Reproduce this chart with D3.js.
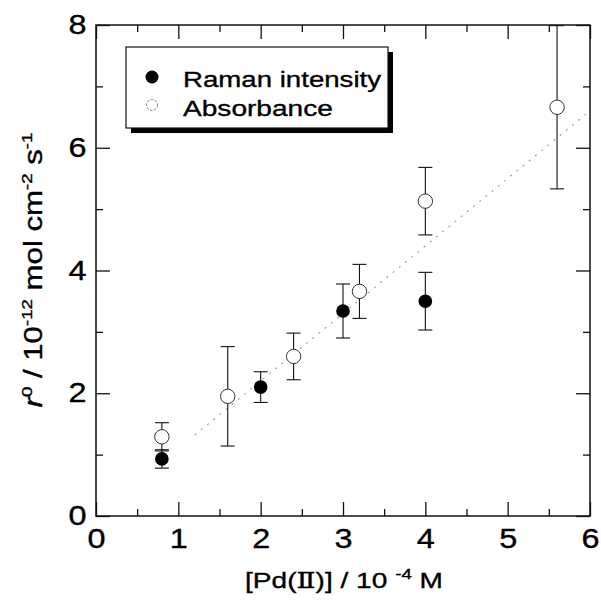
<!DOCTYPE html>
<html>
<head>
<meta charset="utf-8">
<script src="https://cdn.jsdelivr.net/npm/d3@7"></script>
<style>
  html, body { margin: 0; padding: 0; background: #fff; }
  svg { display: block; font-family: "Liberation Sans", Arial, Helvetica, sans-serif; }
  svg text { stroke: #000; stroke-width: 0.35px; }
</style>
</head>
<body>
<svg id="chart" width="601" height="600"></svg>
<script>
// Initial rate vs Pd(II) concentration, two detection methods
const ramanX = [0.8, 2.0, 3.0, 4.0];
const ramanY = [0.93, 2.10, 3.34, 3.50];
const ramanErr = [0.15, 0.25, 0.44, 0.47];

const absX = [0.8, 1.6, 2.4, 3.2, 4.0, 5.6];
const absY = [1.29, 1.95, 2.60, 3.66, 5.13, 6.66];
const absErr = [0.23, 0.81, 0.38, 0.44, 0.55, 1.33];

// Linear fit through both data sets
const fitX = [1.2, 6.0];
const fitY = [1.32, 6.60];

const xTicks = [0, 1, 2, 3, 4, 5, 6];
const xMinor = [0.5, 1.5, 2.5, 3.5, 4.5, 5.5];
const yTicks = [0, 2, 4, 6, 8];
const yMinor = [1, 3, 5, 7];

const legendLabels = ["Raman intensity", "Absorbance"];

const svg = d3.select("#chart");
const L = 96, R = 590, T = 25, B = 516;

const x = d3.scaleLinear().domain([0, 6]).range([L, R]);
const y = d3.scaleLinear().domain([0, 8]).range([B, T]);

const MAJ = 14, MIN = 7;
const tickFont = 27, tickStretch = 1.2;

// stretch a text element horizontally so it spans the wanted width
function fitWidth(sel, width) {
  const w = sel.node().getBBox().width;
  return width / w;
}

// ---- axes (ticks point inward on all four sides)
function styleAxis(g) {
  g.select(".domain").remove();
  g.selectAll("line").attr("stroke", "#111").attr("stroke-width", 1.3);
}

const axBottom = svg.append("g").attr("transform", `translate(0,${B})`)
  .call(d3.axisBottom(x).tickValues(xTicks).tickSize(-MAJ).tickPadding(13).tickFormat(d3.format("d")));
styleAxis(axBottom);
axBottom.selectAll("text").attr("font-size", tickFont).attr("fill", "#000")
  .attr("font-family", "Liberation Sans, Arial, sans-serif")
  .attr("transform", `scale(${tickStretch},1)`);
svg.append("g").attr("transform", `translate(0,${B})`)
  .call(d3.axisBottom(x).tickValues(xMinor).tickSize(-MIN).tickFormat(""))
  .call(styleAxis);

svg.append("g").attr("transform", `translate(0,${T})`)
  .call(d3.axisTop(x).tickValues(xTicks).tickSize(-MAJ).tickFormat(""))
  .call(styleAxis);
svg.append("g").attr("transform", `translate(0,${T})`)
  .call(d3.axisTop(x).tickValues(xMinor).tickSize(-MIN).tickFormat(""))
  .call(styleAxis);

const axLeft = svg.append("g").attr("transform", `translate(${L},0)`)
  .call(d3.axisLeft(y).tickValues(yTicks).tickSize(-MAJ).tickPadding(8).tickFormat(d3.format("d")));
styleAxis(axLeft);
axLeft.selectAll("text").attr("font-size", tickFont).attr("fill", "#000")
  .attr("font-family", "Liberation Sans, Arial, sans-serif")
  .attr("transform", `scale(${tickStretch},1)`);
svg.append("g").attr("transform", `translate(${L},0)`)
  .call(d3.axisLeft(y).tickValues(yMinor).tickSize(-MIN).tickFormat(""))
  .call(styleAxis);

svg.append("g").attr("transform", `translate(${R},0)`)
  .call(d3.axisRight(y).tickValues(yTicks).tickSize(-MAJ).tickFormat(""))
  .call(styleAxis);
svg.append("g").attr("transform", `translate(${R},0)`)
  .call(d3.axisRight(y).tickValues(yMinor).tickSize(-MIN).tickFormat(""))
  .call(styleAxis);

// plot frame
svg.append("rect")
  .attr("x", L).attr("y", T).attr("width", R - L).attr("height", B - T)
  .attr("fill", "none").attr("stroke", "#111").attr("stroke-width", 1.5);

// ---- fit line
svg.append("path")
  .datum(fitX.map((d, i) => [d, fitY[i]]))
  .attr("d", d3.line().x(d => x(d[0])).y(d => y(d[1])))
  .attr("fill", "none").attr("stroke", "#9a9a9a").attr("stroke-width", 1.1)
  .attr("stroke-dasharray", "2,6");

// ---- error bars
function errorBars(xs, ys, es) {
  const g = svg.append("g").attr("stroke", "#111").attr("stroke-width", 1.1);
  const data = xs.map((d, i) => ({ x: d, y: ys[i], e: es[i] }));
  g.selectAll(".v").data(data).join("line").attr("class", "v")
    .attr("x1", d => x(d.x)).attr("x2", d => x(d.x))
    .attr("y1", d => y(d.y + d.e)).attr("y2", d => y(d.y - d.e));
  g.selectAll(".hi").data(data).join("line").attr("class", "hi")
    .attr("x1", d => x(d.x) - 7).attr("x2", d => x(d.x) + 7)
    .attr("y1", d => y(d.y + d.e)).attr("y2", d => y(d.y + d.e));
  g.selectAll(".lo").data(data).join("line").attr("class", "lo")
    .attr("x1", d => x(d.x) - 7).attr("x2", d => x(d.x) + 7)
    .attr("y1", d => y(d.y - d.e)).attr("y2", d => y(d.y - d.e));
}
errorBars(absX, absY, absErr);
errorBars(ramanX, ramanY, ramanErr);

// ---- markers
svg.append("g").selectAll("circle")
  .data(absX.map((d, i) => [d, absY[i]]))
  .join("circle")
  .attr("cx", d => x(d[0])).attr("cy", d => y(d[1])).attr("r", 7.2)
  .attr("fill", "#fff").attr("stroke", "#333").attr("stroke-width", 1);

svg.append("g").selectAll("circle")
  .data(ramanX.map((d, i) => [d, ramanY[i]]))
  .join("circle")
  .attr("cx", d => x(d[0])).attr("cy", d => y(d[1])).attr("r", 6.8)
  .attr("fill", "#000");

// ---- legend with drop shadow
const lg = svg.append("g");
lg.append("rect").attr("x", 131).attr("y", 52).attr("width", 262).attr("height", 81).attr("fill", "#000");
lg.append("rect").attr("x", 126).attr("y", 47).attr("width", 262).attr("height", 81)
  .attr("fill", "#fff").attr("stroke", "#111").attr("stroke-width", 1.2);
lg.append("circle").attr("cx", 152).attr("cy", 77).attr("r", 6.5).attr("fill", "#000");
lg.append("circle").attr("cx", 152).attr("cy", 105).attr("r", 5.5)
  .attr("fill", "#fff").attr("stroke", "#777").attr("stroke-width", 0.9)
  .attr("stroke-dasharray", "2.5,1.5");

const legendBase = [87, 116];
const legendWidth = [199, 150];
legendLabels.forEach((t, i) => {
  const txt = lg.append("text").attr("font-size", 22.5).attr("fill", "#000").text(t);
  const s = fitWidth(txt, legendWidth[i]);
  txt.attr("transform", `translate(183,${legendBase[i]}) scale(${s},1)`);
});

// ---- x axis title
const xt = svg.append("text").attr("font-size", 22.5).attr("fill", "#000");
xt.append("tspan").text("[Pd(");
xt.append("tspan").attr("font-family", "Liberation Serif, DejaVu Serif, serif").text("Ⅱ");
xt.append("tspan").text(")] / 10 ");
xt.append("tspan").attr("font-size", 15).attr("dy", -9).text("-4");
xt.append("tspan").attr("dy", 9).text(" M");
xt.attr("transform", `translate(245,588) scale(${fitWidth(xt, 198)},1)`);

// ---- y axis title (rotated)
const yt = svg.append("text").attr("font-size", 25).attr("fill", "#000").attr("text-anchor", "middle");
yt.append("tspan").attr("font-style", "italic").text("r");
yt.append("tspan").attr("font-size", 15).attr("dy", -10).text("0");
yt.append("tspan").attr("dy", 10).text(" / 10");
yt.append("tspan").attr("font-size", 15).attr("dy", -10).text("-12");
yt.append("tspan").attr("dy", 10).text(" mol cm");
yt.append("tspan").attr("font-size", 15).attr("dy", -10).text("-2");
yt.append("tspan").attr("dy", 10).text(" s");
yt.append("tspan").attr("font-size", 15).attr("dy", -10).text("-1");
yt.attr("transform", `translate(42,270) rotate(-90) scale(${fitWidth(yt, 275)},1)`);
</script>
</body>
</html>
